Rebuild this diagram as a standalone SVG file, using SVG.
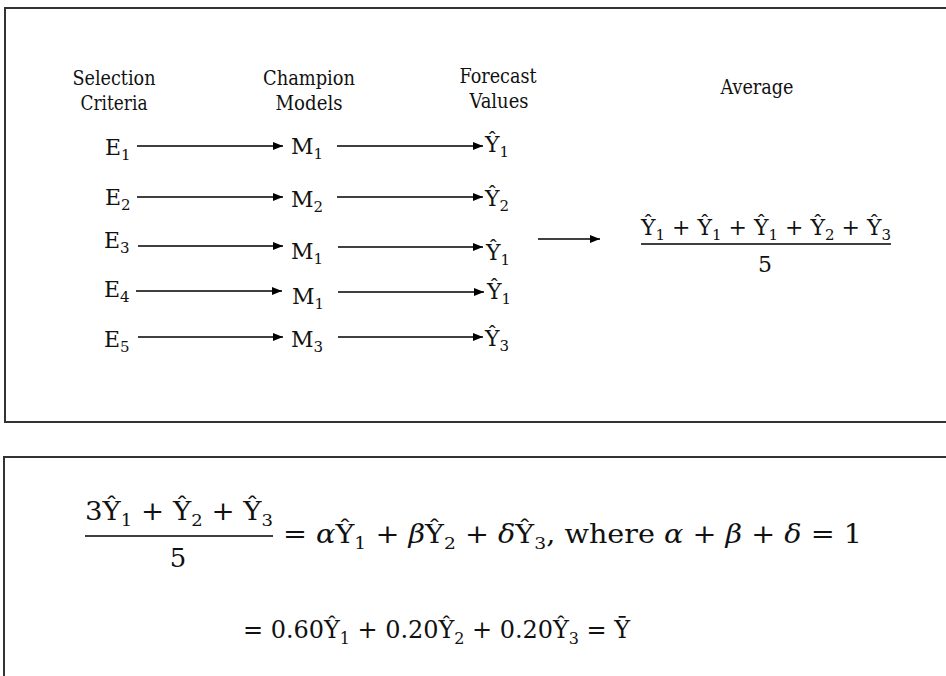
<svg xmlns="http://www.w3.org/2000/svg" width="946" height="676" viewBox="0 0 946 676">
<defs>
<marker id="ah" markerUnits="userSpaceOnUse" markerWidth="10" markerHeight="8" refX="10" refY="4" orient="auto">
<path d="M0,0 L10,4 L0,8 z" fill="#000"/>
</marker>
<style>
.box{fill:#fff;stroke:#333;stroke-width:2}
.h{font-family:"DejaVu Serif Condensed","DejaVu Serif",serif;font-size:20px;text-anchor:middle;fill:#111}
.m{font-family:"DejaVu Serif",serif;font-size:22px;fill:#111}
.s{font-size:15px}
.b{font-family:"DejaVu Serif",serif;font-size:26px;fill:#111}
.b2{font-family:"DejaVu Serif",serif;font-size:24px;fill:#111}
.bs{font-size:17px}
.bs2{font-size:16px}
.i{font-style:italic}
.c{stroke:#000;stroke-width:1.5;fill:none}
.a{stroke:#000;stroke-width:1.5;fill:none;marker-end:url(#ah)}
</style>
</defs>
<rect class="box" x="5" y="8" width="960" height="414"/>
<rect class="box" x="4" y="457" width="960" height="240"/>

<g id="headers">
<g id="h-selection"><text class="h" x="114" y="85" textLength="83" lengthAdjust="spacingAndGlyphs">Selection</text><text class="h" x="114" y="110" textLength="67" lengthAdjust="spacingAndGlyphs">Criteria</text></g>
<g id="h-champion"><text class="h" x="309" y="85" textLength="92" lengthAdjust="spacingAndGlyphs">Champion</text><text class="h" x="309" y="110" textLength="67" lengthAdjust="spacingAndGlyphs">Models</text></g>
<g id="h-forecast"><text class="h" x="498" y="83" textLength="77" lengthAdjust="spacingAndGlyphs">Forecast</text><text class="h" x="499" y="108" textLength="59" lengthAdjust="spacingAndGlyphs">Values</text></g>
<g id="h-average"><text class="h" x="757" y="94" textLength="73" lengthAdjust="spacingAndGlyphs">Average</text></g>
</g>

<g id="E1"><text class="m" x="105" y="155">E<tspan class="s" dy="5">1</tspan></text></g>
<g id="E2"><text class="m" x="105" y="205">E<tspan class="s" dy="5">2</tspan></text></g>
<g id="E3"><text class="m" x="104" y="248">E<tspan class="s" dy="5">3</tspan></text></g>
<g id="E4"><text class="m" x="104" y="297">E<tspan class="s" dy="5">4</tspan></text></g>
<g id="E5"><text class="m" x="104" y="347">E<tspan class="s" dy="5">5</tspan></text></g>

<g id="M1a"><text class="m" x="291" y="154">M<tspan class="s" dy="5">1</tspan></text></g>
<g id="M2"><text class="m" x="291" y="207">M<tspan class="s" dy="5">2</tspan></text></g>
<g id="M1b"><text class="m" x="291" y="259">M<tspan class="s" dy="5">1</tspan></text></g>
<g id="M1c"><text class="m" x="292" y="304">M<tspan class="s" dy="5">1</tspan></text></g>
<g id="M3"><text class="m" x="291" y="347">M<tspan class="s" dy="5">3</tspan></text></g>

<g id="Y1a"><text class="m" x="485" y="152">Ŷ<tspan class="s" dy="5">1</tspan></text></g>
<g id="Y2"><text class="m" x="485" y="206">Ŷ<tspan class="s" dy="5">2</tspan></text></g>
<g id="Y1b"><text class="m" x="486" y="260">Ŷ<tspan class="s" dy="5">1</tspan></text></g>
<g id="Y1c"><text class="m" x="487" y="299">Ŷ<tspan class="s" dy="5">1</tspan></text></g>
<g id="Y3"><text class="m" x="485" y="346">Ŷ<tspan class="s" dy="5">3</tspan></text></g>

<g id="average">
<text class="m" x="641" y="235" textLength="250" lengthAdjust="spacingAndGlyphs">Ŷ<tspan class="s" dy="5">1</tspan><tspan dy="-5"> + Ŷ</tspan><tspan class="s" dy="5">1</tspan><tspan dy="-5"> + Ŷ</tspan><tspan class="s" dy="5">1</tspan><tspan dy="-5"> + Ŷ</tspan><tspan class="s" dy="5">2</tspan><tspan dy="-5"> + Ŷ</tspan><tspan class="s" dy="5">3</tspan></text>
<line class="c" x1="641" y1="244" x2="891" y2="244"/>
<text class="m" x="765" y="272" text-anchor="middle">5</text>
</g>

<g id="connectors">
<line class="a" x1="137" y1="146" x2="283" y2="146"/>
<line class="a" x1="137" y1="197" x2="283" y2="197"/>
<line class="a" x1="138" y1="246" x2="283" y2="246"/>
<line class="a" x1="136" y1="291" x2="282" y2="291"/>
<line class="a" x1="138" y1="337" x2="283" y2="337"/>
<line class="a" x1="337" y1="146" x2="483" y2="146"/>
<line class="a" x1="337" y1="197" x2="483" y2="197"/>
<line class="a" x1="338" y1="247" x2="483" y2="247"/>
<line class="a" x1="338" y1="292" x2="484" y2="292"/>
<line class="a" x1="338" y1="337" x2="483" y2="337"/>
<line class="a" x1="538" y1="239" x2="600" y2="239"/>
</g>

<g id="equation">
<text class="b" x="85" y="520" textLength="188" lengthAdjust="spacingAndGlyphs">3Ŷ<tspan class="bs" dy="6">1</tspan><tspan dy="-6"> + Ŷ</tspan><tspan class="bs" dy="6">2</tspan><tspan dy="-6"> + Ŷ</tspan><tspan class="bs" dy="6">3</tspan></text>
<line class="c" x1="85" y1="536" x2="273" y2="536"/>
<text class="b" x="178" y="567" text-anchor="middle">5</text>
<text class="b" x="283" y="543" textLength="579" lengthAdjust="spacingAndGlyphs">=  <tspan class="i">α</tspan>Ŷ<tspan class="bs" dy="6">1</tspan><tspan dy="-6"> +  </tspan><tspan class="i">β</tspan>Ŷ<tspan class="bs" dy="6">2</tspan><tspan dy="-6"> + </tspan><tspan class="i">δ</tspan>Ŷ<tspan class="bs" dy="6">3</tspan><tspan dy="-6">, where </tspan><tspan class="i">α</tspan> + <tspan class="i">β</tspan> + <tspan class="i">δ</tspan> = 1</text>
<text class="b2" x="243" y="638" textLength="387" lengthAdjust="spacing">= 0.60Ŷ<tspan class="bs2" dy="6">1</tspan><tspan dy="-6"> + 0.20Ŷ</tspan><tspan class="bs2" dy="6">2</tspan><tspan dy="-6"> + 0.20Ŷ</tspan><tspan class="bs2" dy="6">3</tspan><tspan dy="-6"> = Ȳ</tspan></text>
</g>
</svg>
